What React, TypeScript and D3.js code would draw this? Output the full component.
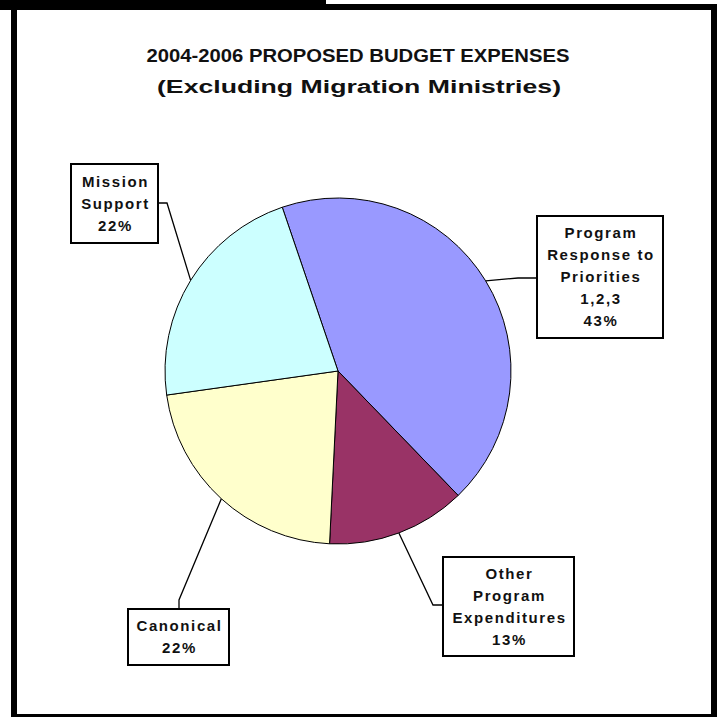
import React from "react";
import * as d3 from "d3";

const categories = ["Program Response to Priorities 1,2,3", "Other Program Expenditures", "Canonical", "Mission Support"];
const values = [43, 13, 22, 22];
const labelLines = [
  ["Program", "Response to", "Priorities", "1,2,3", "43%"],
  ["Other", "Program", "Expenditures", "13%"],
  ["Canonical", "22%"],
  ["Mission", "Support", "22%"],
];
const colors = ["#9999FF", "#993366", "#FFFFCC", "#CCFFFF"];
const titleLines = ["2004-2006 PROPOSED BUDGET EXPENSES", "(Excluding Migration Ministries)"];

// layout (label boxes and elbow points)
const boxes = [
  { x: 537, y: 216, w: 126, h: 122, elbow: [518, 278], attach: [537, 278] },
  { x: 443, y: 557, w: 131, h: 99, elbow: [433, 605], attach: [443, 605] },
  { x: 128, y: 609, w: 101, h: 56, elbow: [179, 600], attach: [179, 609] },
  { x: 71, y: 164, w: 87, h: 79, elbow: [167, 203], attach: [158, 203] },
];

export default function App() {
  const cx = 338, cy = 371, r = 173;
  const start = (-18.8 * Math.PI) / 180;
  const pie = d3.pie<number>().sort(null).value((d) => d).startAngle(start).endAngle(start + 2 * Math.PI);
  const arcs = pie(values);
  const arc = d3.arc<d3.PieArcDatum<number>>().innerRadius(0).outerRadius(r);
  const font = "'Liberation Sans', Arial, sans-serif";
  const lineH = 22;
  return (
    <svg width={722} height={717} style={{ position: "absolute", left: 0, top: 0 }} fontFamily={font}>
      <rect x={0} y={0} width={722} height={717} fill="#fff" />
      <rect x={0} y={0} width={326} height={10} fill="#000" />
      <rect x={14} y={7} width={700} height={710} fill="none" stroke="#000" strokeWidth={6} />
      <text x={358} y={62} textAnchor="middle" fontWeight="bold" fontSize={19} textLength={423} lengthAdjust="spacingAndGlyphs" fill="#111">
        {titleLines[0]}
      </text>
      <text x={359} y={93} textAnchor="middle" fontWeight="bold" fontSize={18} textLength={404} lengthAdjust="spacingAndGlyphs" fill="#111">
        {titleLines[1]}
      </text>
      <g transform={`translate(${cx},${cy})`}>
        {arcs.map((a, i) => (
          <path key={categories[i]} d={arc(a) || ""} fill={colors[i]} stroke="#000" strokeWidth={1} />
        ))}
      </g>
      {arcs.map((a, i) => {
        const mid = (a.startAngle + a.endAngle) / 2;
        const px = cx + r * Math.sin(mid);
        const py = cy - r * Math.cos(mid);
        const b = boxes[i];
        return (
          <polyline
            key={"l" + i}
            points={`${px},${py} ${b.elbow[0]},${b.elbow[1]} ${b.attach[0]},${b.attach[1]}`}
            fill="none"
            stroke="#000"
            strokeWidth={1.3}
          />
        );
      })}
      {boxes.map((b, i) => {
        const lines = labelLines[i];
        const total = lines.length * lineH;
        const y0 = b.y + b.h / 2 - total / 2 + lineH / 2 + 5;
        return (
          <g key={"b" + i}>
            <rect x={b.x} y={b.y} width={b.w} height={b.h} fill="#fff" stroke="#000" strokeWidth={2} />
            {lines.map((t, j) => (
              <text
                key={j}
                x={b.x + b.w / 2 + 1}
                y={y0 + j * lineH}
                textAnchor="middle"
                fontWeight="bold"
                fontSize={15}
                letterSpacing={1.6}
                fill="#111"
              >
                {t}
              </text>
            ))}
          </g>
        );
      })}
    </svg>
  );
}
